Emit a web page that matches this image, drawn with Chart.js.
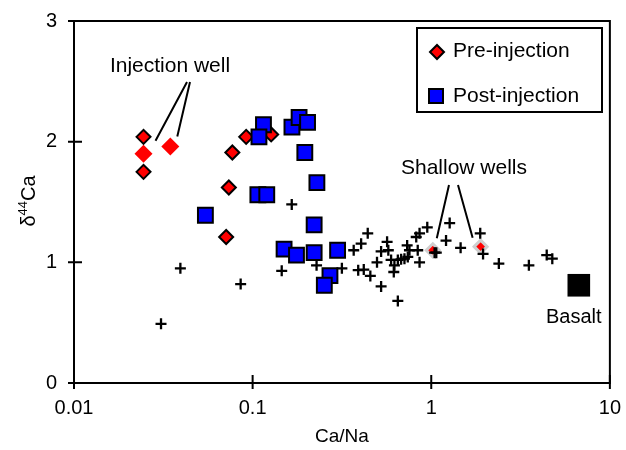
<!DOCTYPE html>
<html>
<head>
    <title>Ca isotopes</title>
    <style>
        body {
            margin: 0;
            background: white;
        }
    </style>
    <script src="https://cdn.jsdelivr.net/npm/chart.js"></script>
</head>
<body>
    <canvas id="chart" width="626" height="450"></canvas>

    <script>
        // values: Ca/Na (x) and d44Ca (y)
        const preX = [0.0245, 0.0245, 0.092, 0.127, 0.077, 0.0736, 0.0711];
        const preY = [2.04, 1.75, 2.04, 2.06, 1.91, 1.62, 1.21];

        const injectionX = [0.0245, 0.0346];
        const injectionY = [1.90, 1.96];

        const shallowX = [1.02, 1.89];
        const shallowY = [1.10, 1.13];

        const postX = [0.115, 0.1085, 0.166, 0.182, 0.203, 0.196, 0.229, 0.107, 0.12, 0.0544,
                       0.221, 0.150, 0.176, 0.221, 0.299, 0.271, 0.252];
        const postY = [2.14, 2.04, 2.12, 2.20, 2.16, 1.91, 1.66, 1.56, 1.56, 1.39,
                       1.31, 1.11, 1.06, 1.08, 1.10, 0.89, 0.81];

        const otherX = [0.0307, 0.0394, 0.0857, 0.1455, 0.1656, 0.228, 0.316, 0.368, 0.39, 0.441,
                        0.405, 0.419, 0.456, 0.524, 0.65, 0.566, 0.575, 0.524, 0.497, 0.596,
                        0.65, 0.678, 0.622, 0.617, 0.733, 0.755, 0.739, 0.708, 0.84, 0.824,
                        0.86, 0.95, 0.86, 1.067, 1.21, 1.268, 1.46, 1.88, 1.95, 2.39,
                        3.52, 4.43, 4.76, 1.044];
        const otherY = [0.49, 0.95, 0.82, 0.93, 1.48, 0.975, 0.95, 1.10, 0.935, 1.24,
                        1.155, 0.94, 0.887, 0.80, 0.68, 1.17, 1.10, 1.09, 1.00, 1.02,
                        1.02, 1.025, 0.975, 0.92, 1.14, 1.10, 1.045, 1.03, 1.10, 1.21,
                        1.24, 1.29, 1.00, 1.08, 1.18, 1.325, 1.12, 1.24, 1.07, 0.99,
                        0.975, 1.06, 1.03, 1.08];

        const basaltX = [6.7];
        const basaltY = [0.81];

        const xTicks = [0.01, 0.1, 1, 10];
        const yTicks = [0, 1, 2, 3];

        const FONT = '"Liberation Sans", Arial, sans-serif';

        function pts(xs, ys) {
            return xs.map((x, i) => ({ x: x, y: ys[i] }));
        }

        const frame = {
            id: 'frame',
            beforeDatasetsDraw(chart) {
                const ctx = chart.ctx;
                const a = chart.chartArea;
                const xs = chart.scales.x, ys = chart.scales.y;
                ctx.save();
                ctx.strokeStyle = 'black';
                ctx.lineWidth = 2;
                ctx.strokeRect(a.left, a.top, a.right - a.left, a.bottom - a.top);
                ctx.beginPath();
                yTicks.forEach(v => {
                    const py = ys.getPixelForValue(v);
                    ctx.moveTo(a.left - 6, py);
                    ctx.lineTo(a.left + 8, py);
                });
                xTicks.forEach(v => {
                    const px = xs.getPixelForValue(v);
                    ctx.moveTo(px, a.bottom - 8);
                    ctx.lineTo(px, a.bottom + 6);
                });
                ctx.stroke();

                // axis titles
                ctx.fillStyle = 'black';
                ctx.font = '19px ' + FONT;
                ctx.textAlign = 'center';
                ctx.textBaseline = 'middle';
                ctx.fillText('Ca/Na', (a.left + a.right) / 2, 437);

                ctx.translate(35, (a.top + a.bottom) / 2 - 1);
                ctx.rotate(-Math.PI / 2);
                ctx.textAlign = 'left';
                ctx.textBaseline = 'alphabetic';
                const big = '20px ' + FONT, small = '13px ' + FONT;
                ctx.font = big;
                const w1 = ctx.measureText('\u03b4').width;
                const w3 = ctx.measureText('Ca').width;
                ctx.font = small;
                const w2 = ctx.measureText('44').width;
                let sx = -(w1 + w2 + w3) / 2;
                ctx.font = big;
                ctx.fillText('\u03b4', sx, 0);
                ctx.font = small;
                ctx.fillText('44', sx + w1, -8);
                ctx.font = big;
                ctx.fillText('Ca', sx + w1 + w2, 0);
                ctx.restore();
            },
            afterDatasetsDraw(chart) {
                const ctx = chart.ctx;
                const xs = chart.scales.x, ys = chart.scales.y;
                const px = v => xs.getPixelForValue(v);
                const py = v => ys.getPixelForValue(v);
                ctx.save();
                ctx.fillStyle = 'black';
                ctx.strokeStyle = 'black';
                ctx.lineWidth = 2;
                ctx.font = '21px ' + FONT;
                ctx.textAlign = 'center';
                ctx.textBaseline = 'middle';

                // Injection well
                ctx.fillText('Injection well', 170, 66);
                ctx.beginPath();
                ctx.moveTo(187, 82);
                ctx.lineTo(px(preX[0]) + 12, py(preY[0]) + 4);
                ctx.moveTo(190, 82);
                ctx.lineTo(px(injectionX[1]) + 7, py(injectionY[1]) - 10);
                ctx.stroke();

                // Shallow wells
                ctx.fillText('Shallow wells', 464, 168);
                ctx.beginPath();
                ctx.moveTo(449, 185);
                ctx.lineTo(px(shallowX[0]) + 4, py(shallowY[0]) - 12);
                ctx.moveTo(458, 185);
                ctx.lineTo(px(shallowX[1]) - 8, py(shallowY[1]) - 9);
                ctx.stroke();

                // Basalt
                ctx.font = '20px ' + FONT;
                ctx.fillText('Basalt', px(basaltX[0]) - 5, py(basaltY[0]) + 32);

                // legend box
                ctx.font = '21px ' + FONT;
                ctx.fillStyle = 'white';
                ctx.fillRect(417, 28, 185, 84);
                ctx.strokeRect(417, 28, 185, 84);
                ctx.textAlign = 'left';
                ctx.fillStyle = 'black';
                ctx.fillText('Pre-injection', 453, 51);
                ctx.fillText('Post-injection', 453, 96);

                ctx.lineWidth = 2;
                ctx.fillStyle = '#ff0000';
                ctx.beginPath();
                ctx.moveTo(430, 52);
                ctx.lineTo(437, 45);
                ctx.lineTo(444, 52);
                ctx.lineTo(437, 59);
                ctx.closePath();
                ctx.fill();
                ctx.stroke();
                ctx.fillStyle = '#0000ff';
                ctx.fillRect(429, 89, 14, 14);
                ctx.strokeRect(429, 89, 14, 14);
                ctx.restore();
            }
        };

        new Chart(document.getElementById('chart'), {
            type: 'scatter',
            data: {
                datasets: [
                    {
                        label: 'Other wells',
                        data: pts(otherX, otherY),
                        pointStyle: 'cross',
                        pointRadius: 5.5,
                        borderColor: 'black',
                        borderWidth: 2.3,
                        order: 0
                    },
                    {
                        label: 'Basalt',
                        data: pts(basaltX, basaltY),
                        pointStyle: 'rect',
                        pointRadius: 16,
                        backgroundColor: 'black',
                        borderColor: 'black',
                        borderWidth: 0,
                        order: 1
                    },
                    {
                        label: 'Post-injection',
                        data: pts(postX, postY),
                        pointStyle: 'rect',
                        pointRadius: 10.5,
                        backgroundColor: '#0000ff',
                        borderColor: 'black',
                        borderWidth: 2,
                        order: 2
                    },
                    {
                        label: 'Shallow wells',
                        data: pts(shallowX, shallowY),
                        pointStyle: 'rectRot',
                        pointRadius: 6.5,
                        backgroundColor: '#ff0000',
                        borderColor: '#cfcfcf',
                        borderWidth: 3,
                        order: 3
                    },
                    {
                        label: 'Pre-injection',
                        data: pts(preX, preY),
                        pointStyle: 'rectRot',
                        pointRadius: 7,
                        backgroundColor: '#ff0000',
                        borderColor: 'black',
                        borderWidth: 2,
                        order: 4
                    },
                    {
                        label: 'Injection well',
                        data: pts(injectionX, injectionY),
                        pointStyle: 'rectRot',
                        pointRadius: 9,
                        backgroundColor: '#ff0000',
                        borderWidth: 0,
                        order: 5
                    }
                ]
            },
            options: {
                responsive: false,
                animation: false,
                events: [],
                layout: { padding: { top: 12, right: 15, left: 0, bottom: 0 } },
                plugins: {
                    legend: { display: false },
                    tooltip: { enabled: false }
                },
                scales: {
                    x: {
                        type: 'logarithmic',
                        min: 0.01,
                        max: 10,
                        grid: { display: false },
                        border: { display: false },
                        afterBuildTicks: scale => {
                            scale.ticks = xTicks.map(v => ({ value: v }));
                        },
                        afterFit: scale => { scale.height = 67; },
                        ticks: {
                            autoSkip: false,
                            maxRotation: 0,
                            padding: 5,
                            color: 'black',
                            font: { family: FONT, size: 20 },
                            callback: v => String(v)
                        }
                    },
                    y: {
                        min: 0,
                        max: 3,
                        grid: { display: false },
                        border: { display: false },
                        afterBuildTicks: scale => {
                            scale.ticks = yTicks.map(v => ({ value: v }));
                        },
                        afterFit: scale => { scale.width = 74; },
                        ticks: {
                            padding: 9,
                            color: 'black',
                            font: { family: FONT, size: 20 },
                            callback: v => String(v)
                        }
                    }
                }
            },
            plugins: [frame]
        });
    </script>
</body>
</html>
